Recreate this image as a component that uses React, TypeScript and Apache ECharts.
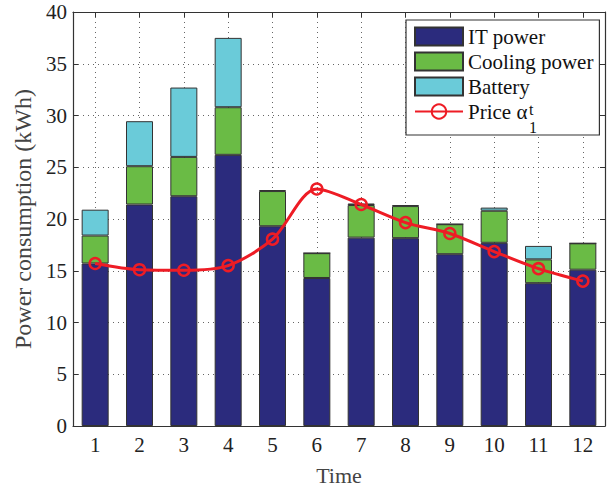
import React, { useEffect, useRef } from "react";
import * as echarts from "echarts";

const categories = ["1", "2", "3", "4", "5", "6", "7", "8", "9", "10", "11", "12"];
const itPower = [15.7, 21.4, 22.2, 26.2, 19.3, 14.3, 18.2, 18.15, 16.6, 17.7, 13.8, 15.1];
const coolingPower = [2.7, 3.7, 3.8, 4.6, 3.4, 2.4, 3.15, 3.1, 2.9, 3.1, 2.3, 2.55];
const battery = [2.5, 4.35, 6.7, 6.7, 0.1, 0, 0.15, 0.1, 0, 0.3, 1.3, 0];
const price = [15.7, 15.1, 15.05, 15.5, 18.05, 22.9, 21.4, 19.65, 18.6, 16.85, 15.2, 14.0];

const FONT = "'Liberation Serif', 'Times New Roman', serif";
const AXIS_COLOR = "#333";

export default function App() {
  const ref = useRef<HTMLDivElement>(null);
  useEffect(() => {
    if (!ref.current) return;
    const chart = echarts.init(ref.current, undefined, { renderer: "svg" });
    const barBase = {
      type: "bar",
      stack: "total",
      barWidth: 27,
    };
    const axisCommon = {
      axisLine: { show: true, onZero: false, lineStyle: { color: AXIS_COLOR, width: 1.2 } },
      axisTick: { show: true, inside: true, length: 5, lineStyle: { color: AXIS_COLOR } },
    };
    chart.setOption({
      animation: false,
      backgroundColor: "#fff",
      textStyle: { fontFamily: FONT },
      grid: { left: 73, right: 7, top: 12, bottom: 60, containLabel: false },
      legend: {
        orient: "vertical",
        left: 406,
        top: 20,
        padding: [6, 6, 13, 8],
        itemGap: 4,
        itemWidth: 48,
        itemHeight: 18,
        borderColor: AXIS_COLOR,
        borderWidth: 1.2,
        backgroundColor: "#fff",
        textStyle: { fontFamily: FONT, fontSize: 21, color: "#111" },
        data: [
          { name: "IT power", icon: "rect" },
          { name: "Cooling power", icon: "rect" },
          { name: "Battery", icon: "rect" },
          { name: "Price \u03b1" },
        ],
      },
      graphic: [
        { type: "text", left: 529, top: 101, z: 100, style: { text: "t", font: `16px ${FONT}`, fill: "#111" } },
        { type: "text", left: 529, top: 119, z: 100, style: { text: "1", font: `16px ${FONT}`, fill: "#111" } },
      ],
      xAxis: [
        {
          type: "category",
          data: categories,
          position: "bottom",
          ...axisCommon,
          axisTick: { ...axisCommon.axisTick, alignWithLabel: true },
          axisLabel: { fontFamily: FONT, fontSize: 21, color: "#222", margin: 8 },
          splitLine: { show: true, alignWithLabel: true, lineStyle: { color: "#666", type: [1, 4], width: 1 } },
          name: "Time",
          nameLocation: "middle",
          nameGap: 38,
          nameTextStyle: { fontFamily: FONT, fontSize: 22, color: "#444" },
        },
        {
          type: "category",
          data: categories,
          position: "top",
          ...axisCommon,
          axisTick: { ...axisCommon.axisTick, alignWithLabel: true },
          axisLabel: { show: false },
          splitLine: { show: false },
        },
      ],
      yAxis: [
        {
          type: "value",
          min: 0,
          max: 40,
          interval: 5,
          position: "left",
          ...axisCommon,
          axisLabel: { fontFamily: FONT, fontSize: 21, color: "#222", margin: 6 },
          splitLine: { show: true, lineStyle: { color: "#666", type: [1, 4], width: 1 } },
          name: "Power consumption (kWh)",
          nameLocation: "middle",
          nameGap: 36,
          nameTextStyle: { fontFamily: FONT, fontSize: 24, color: "#444" },
        },
        {
          type: "value",
          min: 0,
          max: 40,
          interval: 5,
          position: "right",
          ...axisCommon,
          axisLabel: { show: false },
          splitLine: { show: false },
        },
      ],
      series: [
        {
          ...barBase,
          name: "IT power",
          data: itPower,
          itemStyle: { color: "#2b2b7d", borderColor: "#333", borderWidth: 1 },
        },
        {
          ...barBase,
          name: "Cooling power",
          data: coolingPower,
          itemStyle: { color: "#6abb45", borderColor: "#333", borderWidth: 1 },
        },
        {
          ...barBase,
          name: "Battery",
          data: battery,
          itemStyle: { color: "#6acbd9", borderColor: "#333", borderWidth: 1 },
        },
        {
          type: "line",
          name: "Price \u03b1",
          data: price,
          smooth: 0.3,
          symbol: "circle",
          symbolSize: 11,
          lineStyle: { color: "#ee1c25", width: 3 },
          itemStyle: { color: "rgba(255,255,255,0)", borderColor: "#ee1c25", borderWidth: 2.5 },
          z: 5,
        },
      ],
    });
    return () => chart.dispose();
  }, []);
  return <div ref={ref} style={{ width: 612, height: 491, position: "absolute", left: 0, top: 0 }} />;
}
